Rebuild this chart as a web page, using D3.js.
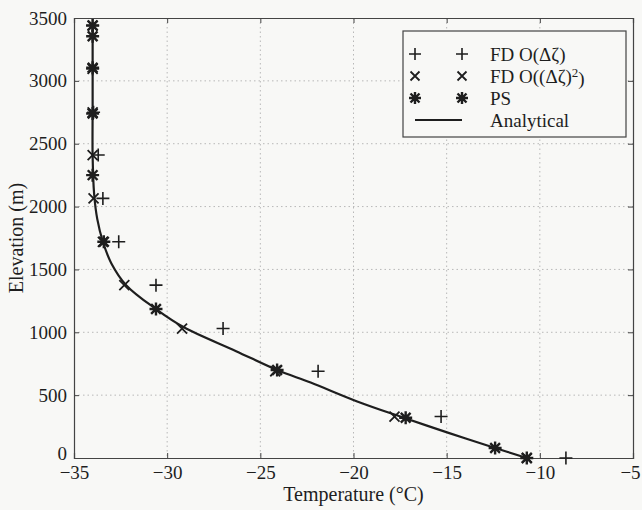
<!DOCTYPE html>
<html>
<head>
<meta charset="utf-8">
<script src="https://cdn.jsdelivr.net/npm/d3@7"></script>
<style>
  html, body { margin: 0; padding: 0; background: #f8f8f6; }
  svg { display: block; }
  svg text { font-family: "Liberation Serif", "DejaVu Serif", serif; }
</style>
</head>
<body>
<svg id="chart" width="642" height="510"></svg>
<script>
// ---- Data ----
const xTicks = [-35, -30, -25, -20, -15, -10, -5];
const yTicks = [0, 500, 1000, 1500, 2000, 2500, 3000, 3500];

// FD grid levels (m)
const levelsFD = [0, 330, 690, 1030, 1375, 1720, 2065, 2410, 2750, 3095, 3440];
// FD O(Δζ)  (+)
const tempFD1 = [-8.6, -15.3, -21.9, -27.0, -30.6, -32.6, -33.45, -33.7, -33.95, -34.0, -34.0];
// FD O((Δζ)^2)  (×)
const tempFD2 = [-10.7, -17.8, -24.2, -29.2, -32.3, -33.45, -33.95, -34.0, -34.0, -34.0, -34.0];

// PS levels (m) and temperatures (*)
const levelsPS = [0, 80, 320, 700, 1185, 1720, 2250, 2740, 3105, 3355, 3440];
const tempPS = [-10.7, -12.4, -17.2, -24.1, -30.6, -33.4, -34.0, -34.0, -34.0, -34.0, -34.0];

// Analytical curve
const elevA = [0, 80, 200, 320, 450, 600, 700, 850, 1040, 1185, 1375, 1550, 1720, 1900, 2100, 2400, 2800, 3440];
const tempA = [-10.7, -12.4, -14.9, -17.3, -19.8, -22.3, -24.1, -26.3, -29.1, -30.6, -32.2, -33.0, -33.45, -33.75, -33.92, -34.0, -34.0, -34.0];

const legendLabels = ["FD O(Δζ)", "FD O((Δζ)²)", "PS", "Analytical"];

// ---- Layout ----
const L = 74, R = 633, T = 18, B = 458;
const ink = "#1e1e1e";
const serif = "'Liberation Serif', 'DejaVu Serif', serif";
const svg = d3.select("#chart");

const x = d3.scaleLinear().domain([-35, -5]).range([L, R]);
const y = d3.scaleLinear().domain([0, 3500]).range([B, T]);

// Grid (dotted)
const grid = svg.append("g").attr("stroke", "#b8b8b8").attr("stroke-width", 1).attr("stroke-dasharray", "1.5,3");
grid.selectAll("line.vx").data(xTicks.slice(1, -1)).join("line")
  .attr("x1", d => x(d)).attr("x2", d => x(d)).attr("y1", T).attr("y2", B);
grid.selectAll("line.hy").data(yTicks.slice(1, -1)).join("line")
  .attr("y1", d => y(d)).attr("y2", d => y(d)).attr("x1", L).attr("x2", R);

// Axes with inward ticks
const fmt = d3.format("d");
const axB = svg.append("g").attr("transform", `translate(0,${B})`)
  .call(d3.axisBottom(x).tickValues(xTicks).tickSize(-5).tickPadding(9).tickFormat(d => fmt(d)));
const axT = svg.append("g").attr("transform", `translate(0,${T})`)
  .call(d3.axisTop(x).tickValues(xTicks).tickSize(-5).tickFormat(""));
const axL = svg.append("g").attr("transform", `translate(${L},0)`)
  .call(d3.axisLeft(y).tickValues(yTicks).tickSize(-5).tickPadding(7).tickFormat(d => fmt(d)));
const axR = svg.append("g").attr("transform", `translate(${R},0)`)
  .call(d3.axisRight(y).tickValues(yTicks).tickSize(-5).tickFormat(""));
[axB, axT, axL, axR].forEach(a => {
  a.attr("font-family", serif).attr("font-size", 19);
  a.select(".domain").attr("stroke", "#444").attr("stroke-width", 1.2);
  a.selectAll(".tick line").attr("stroke", "#444").attr("stroke-width", 1);
  a.selectAll("text").attr("fill", ink).attr("font-family", serif).attr("font-size", 19);
});
axB.selectAll("text").attr("dy", "0.62em");
axB.selectAll(".tick").filter(d => d === -5).select("text").attr("dx", "-3");
axL.selectAll(".tick").filter(d => d === 0).select("text").attr("dy", "0.1em");

// Axis labels
svg.append("text").attr("x", (L + R) / 2).attr("y", 501).attr("text-anchor", "middle")
  .attr("fill", ink).attr("font-family", serif).attr("font-size", 20).text("Temperature (°C)");
svg.append("text").attr("transform", `translate(23,${(T + B) / 2}) rotate(-90)`)
  .attr("text-anchor", "middle").attr("fill", ink).attr("font-family", serif).attr("font-size", 20)
  .text("Elevation (m)");

// Marker paths
function plusPath(cx, cy, s) { return `M${cx - s},${cy}H${cx + s}M${cx},${cy - s}V${cy + s}`; }
function crossPath(cx, cy, s) { return `M${cx - s},${cy - s}L${cx + s},${cy + s}M${cx - s},${cy + s}L${cx + s},${cy - s}`; }
function starPath(cx, cy, s) { return plusPath(cx, cy, s) + crossPath(cx, cy, s * 0.75); }

// Analytical line
const line = d3.line().x(d => x(d[0])).y(d => y(d[1])).curve(d3.curveCatmullRom.alpha(0.5));
svg.append("path").datum(tempA.map((t, i) => [t, elevA[i]]))
  .attr("d", line).attr("fill", "none").attr("stroke", ink).attr("stroke-width", 2.2);

const marks = svg.append("g").attr("fill", "none").attr("stroke", ink);
marks.selectAll("path.fd1").data(levelsFD.map((z, i) => [tempFD1[i], z])).join("path")
  .attr("d", d => plusPath(x(d[0]), y(d[1]), 6.5)).attr("stroke-width", 1.6);
marks.selectAll("path.fd2").data(levelsFD.map((z, i) => [tempFD2[i], z])).join("path")
  .attr("d", d => crossPath(x(d[0]), y(d[1]), 5)).attr("stroke-width", 1.8);
marks.selectAll("path.ps").data(levelsPS.map((z, i) => [tempPS[i], z])).join("path")
  .attr("d", d => starPath(x(d[0]), y(d[1]), 6.5)).attr("stroke-width", 2.4);

// Legend
const lg = svg.append("g");
lg.append("rect").attr("x", 403).attr("y", 31).attr("width", 223).attr("height", 106)
  .attr("fill", "#f8f8f6").attr("stroke", "#444").attr("stroke-width", 1.2);
const rowY = [54, 76, 98, 120];
const mk = [
  (cx, cy) => plusPath(cx, cy, 6),
  (cx, cy) => crossPath(cx, cy, 4.5),
  (cx, cy) => starPath(cx, cy, 6)
];
const sw = [1.6, 1.8, 2.4];
[0, 1, 2].forEach(i => {
  [415, 462].forEach(cx => {
    lg.append("path").attr("d", mk[i](cx, rowY[i])).attr("fill", "none")
      .attr("stroke", ink).attr("stroke-width", sw[i]);
  });
});
lg.append("line").attr("x1", 415).attr("x2", 462).attr("y1", rowY[3]).attr("y2", rowY[3])
  .attr("stroke", ink).attr("stroke-width", 2.2);
legendLabels.forEach((t, i) => {
  const tx = lg.append("text").attr("x", 490).attr("y", rowY[i]).attr("dy", "0.35em")
    .attr("fill", ink).attr("font-family", serif).attr("font-size", 19);
  if (i === 1) {
    tx.append("tspan").text("FD O((Δζ)");
    tx.append("tspan").attr("dy", "-0.45em").attr("font-size", 13).text("2");
    tx.append("tspan").attr("dy", "0.45em").text(")");
  } else {
    tx.text(t);
  }
});
</script>
</body>
</html>
